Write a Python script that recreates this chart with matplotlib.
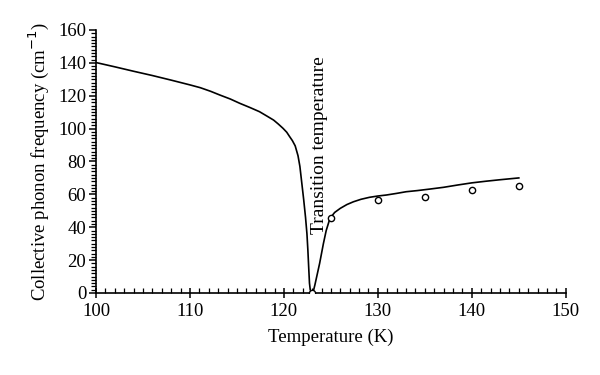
import matplotlib
matplotlib.use("Agg")
import matplotlib.pyplot as plt
from matplotlib.ticker import MultipleLocator

# Theory curve
curve_T = [100.0, 102.0, 104.0, 106.0, 108.0, 110.0, 111.1, 112.2, 113.2, 114.3, 115.3,
           116.4, 117.4, 118.2, 118.9, 119.4, 119.9, 120.3, 120.6, 120.9, 121.2,
           121.5, 121.7, 121.9, 122.1, 122.3, 122.45, 122.55, 122.65, 122.72, 122.8,
           122.9, 123.0, 123.15, 123.3, 123.55, 123.8, 124.0, 124.2, 124.5, 124.9,
           125.4, 126.0, 126.7, 127.4, 128.2, 129.1, 130.0, 130.9, 132.0, 133.0,
           134.2, 135.5, 137.0, 138.5, 140.0, 141.5, 143.0, 145.0]
curve_f = [140.2, 137.6, 134.9, 132.3, 129.5, 126.6, 124.9, 122.7, 120.4, 118.0, 115.4,
           112.8, 110.3, 107.6, 105.2, 102.8, 100.2, 97.8, 95.2, 92.7, 89.5,
           83.5, 77.0, 67.0, 57.0, 46.0, 36.0, 26.0, 14.0, 6.0, 2.0,
           0.5, 0.3, 1.5, 5.0, 11.5, 18.0, 24.0, 30.0, 38.0, 45.4,
           49.0, 51.5, 53.8, 55.5, 57.0, 58.2, 59.0, 59.6, 60.6, 61.6,
           62.3, 63.2, 64.3, 65.7, 67.0, 68.0, 68.9, 70.0]

# Experimental points
exp_T = [123, 125, 130, 135, 140, 145]
exp_f = [0, 45.6, 56.6, 58.4, 62.6, 65.0]

plt.rcParams['font.family'] = ['Liberation Serif', 'DejaVu Serif']

fig = plt.figure(figsize=(6, 3.75), dpi=100)
ax = fig.add_axes([0.16, 0.2187, 0.783, 0.7013])

ax.plot(curve_T, curve_f, color='black', lw=1.2)
ax.plot(exp_T, exp_f, 'o', mfc='white', mec='black', ms=4.5, mew=1.0, ls='none', zorder=3)

ax.text(123.8, 90, 'Transition temperature', rotation=90, ha='center', va='center', fontsize=14)

ax.set_xlim(100, 150)
ax.set_ylim(0, 160)
ax.xaxis.set_major_locator(MultipleLocator(10))
ax.xaxis.set_minor_locator(MultipleLocator(1))
ax.yaxis.set_major_locator(MultipleLocator(20))
ax.yaxis.set_minor_locator(MultipleLocator(2))

ax.spines['top'].set_visible(False)
ax.spines['right'].set_visible(False)
ax.spines['left'].set_linewidth(1.2)
ax.spines['bottom'].set_linewidth(1.2)

ax.tick_params(axis='x', which='major', direction='inout', length=7, width=1.1, labelsize=13.5, pad=4)
ax.tick_params(axis='x', which='minor', direction='in', length=3.5, width=0.9)
ax.tick_params(axis='y', which='major', direction='out', length=5, width=1.1, labelsize=13.5, pad=2)
ax.tick_params(axis='y', which='minor', direction='out', length=3.5, width=0.9)

ax.set_xlabel('Temperature (K)', fontsize=13.5, labelpad=6)
ax.set_ylabel('Collective phonon frequency (cm$^{-1}$)', fontsize=13.5, labelpad=5)

fig.savefig('out.png', dpi=100)
